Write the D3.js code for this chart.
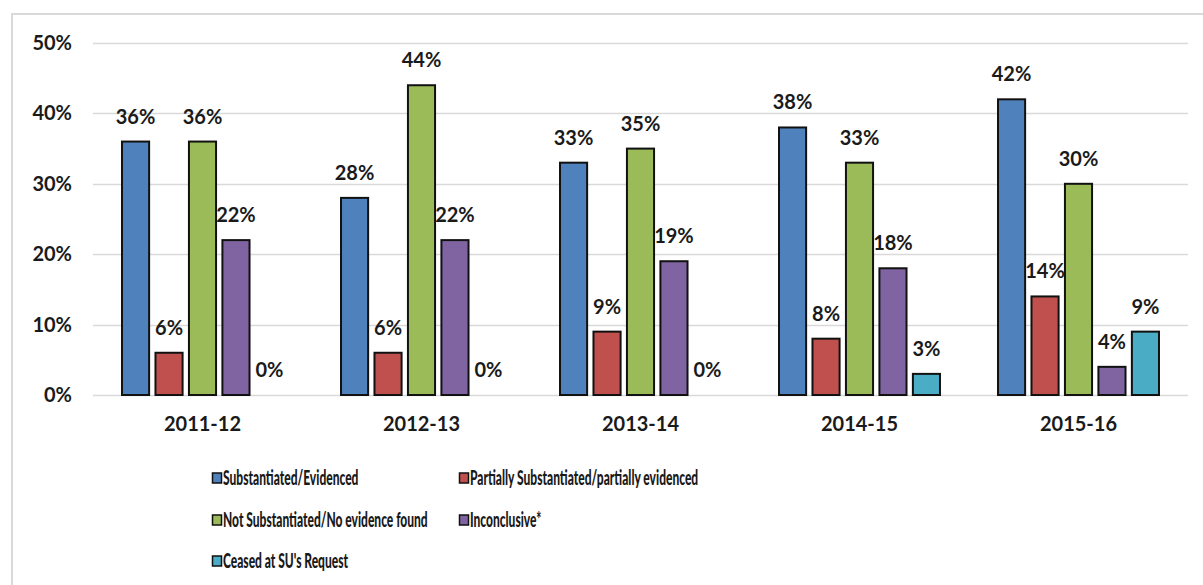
<!DOCTYPE html>
<html>
<head>
<meta charset="utf-8">
<script src="https://cdn.jsdelivr.net/npm/d3@7"></script>
<style>
  html, body { margin: 0; padding: 0; background: #fff; }
  svg { display: block; }
  text { font-family: Lato, "Open Sans", sans-serif; font-weight: 700; fill: #1a1a1a; }
  .legend-label { font-weight: 900; }
</style>
</head>
<body>
<svg id="chart" width="1203" height="585"></svg>
<script>
// Outcome shares by year (percent)
const years = ["2011-12", "2012-13", "2013-14", "2014-15", "2015-16"];
const seriesNames = [
  "Substantiated/Evidenced",
  "Partially Substantiated/partially evidenced",
  "Not Substantiated/No evidence found",
  "Inconclusive*",
  "Ceased at SU's Request"
];
const substantiated   = [36, 28, 33, 38, 42];
const partially       = [6, 6, 9, 8, 14];
const notSubstantiated = [36, 44, 35, 33, 30];
const inconclusive    = [22, 22, 19, 18, 4];
const ceased          = [0, 0, 0, 3, 9];
const yTicks = [0, 10, 20, 30, 40, 50];
const colors = ["#4f81bd", "#c0504d", "#9bbb59", "#8064a2", "#4bacc6"];

const seriesValues = [substantiated, partially, notSubstantiated, inconclusive, ceased];

const svg = d3.select("#chart");

// chart area frame
svg.append("rect")
  .attr("x", 12).attr("y", 14)
  .attr("width", 1200).attr("height", 600)
  .attr("fill", "none").attr("stroke", "#d9d9d9").attr("stroke-width", 2);

const plot = { left: 93, right: 1188, top: 43, bottom: 395 };

const y = d3.scaleLinear().domain([0, 50]).range([plot.bottom, plot.top]);
const x0 = d3.scaleBand().domain(years).range([plot.left, plot.right]).padding(0);
const x1 = d3.scaleBand().domain(d3.range(seriesNames.length))
  .range([0, x0.bandwidth()]).paddingInner(0.19).paddingOuter(0.867);

// gridlines
svg.append("g").selectAll("line").data(yTicks).join("line")
  .attr("x1", plot.left).attr("x2", plot.right)
  .attr("y1", d => Math.round(y(d)) + 0.5).attr("y2", d => Math.round(y(d)) + 0.5)
  .attr("stroke", "#d9d9d9").attr("stroke-width", 1.5);

// y axis labels
const yAxis = d3.axisLeft(y).tickValues(yTicks).tickFormat(d => d + "%").tickSize(0).tickPadding(0);
const yg = svg.append("g").attr("transform", "translate(72,0)").call(yAxis);
yg.select(".domain").remove();
yg.selectAll("text").style("font-size", "20px").style("font-family", "Lato, sans-serif").attr("fill", "#1a1a1a");

// x axis labels
const xAxis = d3.axisBottom(x0).tickSize(0).tickPadding(0);
const xg = svg.append("g").attr("transform", "translate(0,417)").call(xAxis);
xg.select(".domain").remove();
xg.selectAll("text").style("font-size", "20px").style("font-family", "Lato, sans-serif").attr("fill", "#1a1a1a");

// bars
const rows = [];
years.forEach((yr, i) => {
  seriesValues.forEach((vals, s) => rows.push({ year: yr, s, v: vals[i] }));
});

svg.append("g").selectAll("rect").data(rows.filter(d => d.v > 0)).join("rect")
  .attr("x", d => x0(d.year) + x1(d.s))
  .attr("y", d => y(d.v))
  .attr("width", x1.bandwidth())
  .attr("height", d => y(0) - y(d.v))
  .attr("fill", d => colors[d.s])
  .attr("stroke", "#111").attr("stroke-width", 2);

// value labels
svg.append("g").selectAll("text").data(rows).join("text")
  .attr("x", d => x0(d.year) + x1(d.s) + x1.bandwidth() / 2)
  .attr("y", d => y(d.v) - 18)
  .attr("text-anchor", "middle")
  .style("font-size", "20px")
  .text(d => d.v + "%");

// legend
const legendPos = [
  { x: 212, y: 478 }, { x: 459, y: 478 },
  { x: 212, y: 520 }, { x: 459, y: 520 },
  { x: 212, y: 561 }
];
const squeeze = 0.6;
const lg = svg.append("g").selectAll("g").data(seriesNames).join("g")
  .attr("transform", (d, i) => `translate(${legendPos[i].x},${legendPos[i].y})`);
lg.append("rect")
  .attr("x", 0.5).attr("y", -5).attr("width", 9).attr("height", 10)
  .attr("fill", (d, i) => colors[i]).attr("stroke", "#111").attr("stroke-width", 1.5);
lg.append("text")
  .attr("class", "legend-label")
  .attr("transform", `translate(11,0) scale(${squeeze},1)`)
  .attr("dy", "0.35em")
  .style("font-size", "20px")
  .text(d => d);
</script>
</body>
</html>
